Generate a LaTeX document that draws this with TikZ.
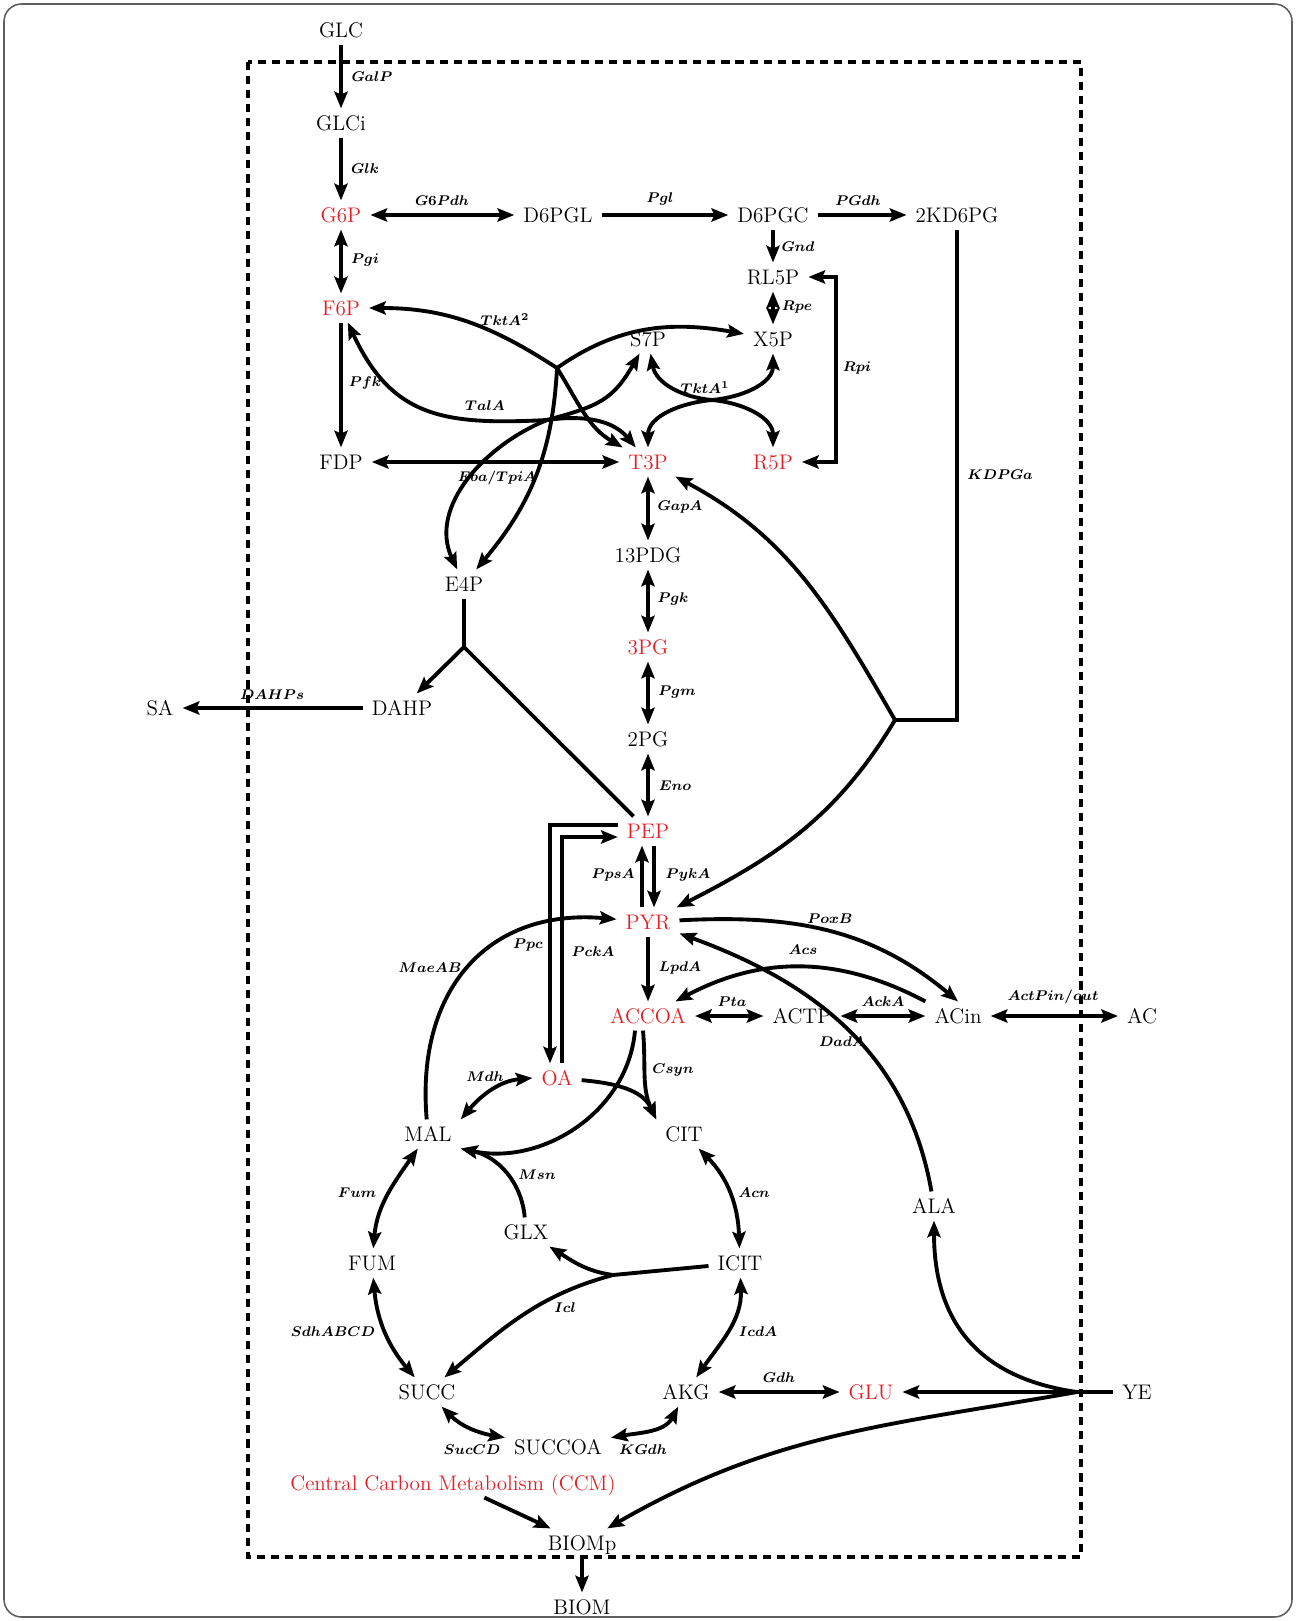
\documentclass[tikz,border=0pt]{standalone}
\usepackage{tikz}
\usepackage{xcolor}
\usetikzlibrary{calc,arrows.meta}
\definecolor{ccmRed}{RGB}{228,30,36}
\definecolor{frameGray}{RGB}{95,95,95}

\begin{document}
\begin{tikzpicture}[x=0.02cm,y=-0.02cm,
  >={Stealth[length=9.5pt,width=7.5pt,inset=1.6pt]},
  met/.style={inner xsep=5pt,inner ysep=4pt,text height=8.2pt,text depth=0pt,font=\fontsize{12}{14}\selectfont},
  key/.style={met,text=ccmRed},
  enz/.style={inner sep=1pt,font=\fontsize{8.5}{10}\selectfont\boldmath},
  bar/.style={line width=2.2pt},
  flux/.style={bar,->},
  rev/.style={bar,<->}]
\useasboundingbox (0,0) rectangle (1296,1621);
\draw[frameGray,line width=0.9pt,rounded corners=10pt] (4,4) rectangle (1292,1617);
\draw[line width=2pt,dash pattern=on 4.6pt off 3.4pt] (248,62) rectangle (1081,1557);

\node[met] (glc) at (341,30) {GLC};
\node[met] (glci) at (341,123) {GLCi};
\node[key] (g6p) at (341,215) {G6P};
\node[met] (d6pgl) at (558,215) {D6PGL};
\node[met] (d6pgc) at (773,215) {D6PGC};
\node[met] (kd6pg) at (957,215) {2KD6PG};
\node[met] (rl5p) at (773,277) {RL5P};
\node[key] (f6p) at (341,308) {F6P};
\node[met] (s7p) at (648,339) {S7P};
\node[met] (x5p) at (773,339) {X5P};
\node[met] (fdp) at (341,462) {FDP};
\node[key] (t3p) at (648,462) {T3P};
\node[key] (r5p) at (773,462) {R5P};
\node[met] (pdg) at (648,555) {13PDG};
\node[met] (e4p) at (464,584) {E4P};
\node[key] (pg3) at (648,647) {3PG};
\node[met] (sa) at (160,708) {SA};
\node[met] (dahp) at (402,708) {DAHP};
\node[met] (pg2) at (648,739) {2PG};
\node[key] (pep) at (648,831) {PEP};
\node[key] (pyr) at (648,922) {PYR};
\node[key] (accoa) at (648,1016) {ACCOA};
\node[met] (actp) at (802,1016) {ACTP};
\node[met] (acin) at (958,1016) {ACin};
\node[met] (ac) at (1142,1016) {AC};
\node[key] (oa) at (557,1078) {OA};
\node[met] (mal) at (428,1134) {MAL};
\node[met] (cit) at (684,1134) {CIT};
\node[met] (ala) at (934,1206) {ALA};
\node[met] (glx) at (526,1232) {GLX};
\node[met] (fum) at (372,1263) {FUM};
\node[met] (icit) at (740,1263) {ICIT};
\node[met] (succ) at (427,1392) {SUCC};
\node[met] (akg) at (686,1392) {AKG};
\node[key] (glu) at (871,1392) {GLU};
\node[met] (ye) at (1137,1392) {YE};
\node[met] (succoa) at (558,1447) {SUCCOA};
\node[key] (ccm) at (453,1483) {Central Carbon Metabolism (CCM)};
\node[met] (biomp) at (582,1543) {BIOMp};
\node[met] (biom) at (582,1607) {BIOM};

\coordinate (kdj) at (895,720);
\coordinate (tkt2) at (557,368);
\coordinate (tal) at (547,420);
\coordinate (tkt1) at (712,400);
\coordinate (e4j) at (464,647);
\coordinate (rpi) at (836,370);
\coordinate (iclj) at (613,1275);
\coordinate (yej) at (1077,1392);

\node[enz] (eGalP) at (372,77) {$GalP$};
\node[enz] (eGlk) at (365,169) {$Glk$};
\node[enz] (eG6Pdh) at (442,201) {$G6Pdh$};
\node[enz] (ePgl) at (660,199) {$Pgl$};
\node[enz] (ePGdh) at (858,201) {$PGdh$};
\node[enz] (eGnd) at (798,247) {$Gnd$};
\node[enz] (ePgi) at (365,260) {$Pgi$};
\node[enz] (eRpe) at (797,307) {$Rpe$};
\node[enz] (eTktB) at (505,320) {$TktA^2$};
\node[enz] (ePfk) at (365,383) {$Pfk$};
\node[enz] (eTalA) at (485,406) {$TalA$};
\node[enz] (eTktA) at (705,388) {$TktA^1$};
\node[enz] (eRpi) at (857,368) {$Rpi$};
\node[enz] (eFba) at (497,478) {$Fba/TpiA$};
\node[enz] (eKDPGa) at (1000,475) {$KDPGa$};
\node[enz] (eGapA) at (680,507) {$GapA$};
\node[enz] (ePgk) at (673,599) {$Pgk$};
\node[enz] (ePgm) at (677,692) {$Pgm$};
\node[enz] (eDAHPs) at (272,695) {$DAHPs$};
\node[enz] (eEno) at (675,786) {$Eno$};
\node[enz] (ePpsA) at (613,875) {$PpsA$};
\node[enz] (ePykA) at (688,875) {$PykA$};
\node[enz] (ePoxB) at (830,919) {$PoxB$};
\node[enz] (eMaeAB) at (430,968) {$MaeAB$};
\node[enz] (ePpc) at (528,945) {$Ppc$};
\node[enz] (ePckA) at (593,952) {$PckA$};
\node[enz] (eAcs) at (803,950) {$Acs$};
\node[enz] (eLpdA) at (680,968) {$LpdA$};
\node[enz] (ePta) at (732,1002) {$Pta$};
\node[enz] (eAckA) at (883,1002) {$AckA$};
\node[enz] (eActP) at (1053,997) {$ActPin/out$};
\node[enz] (eDadA) at (842,1042) {$DadA$};
\node[enz] (eMdh) at (485,1077) {$Mdh$};
\node[enz] (eCsyn) at (673,1070) {$Csyn$};
\node[enz] (eFum) at (357,1193) {$Fum$};
\node[enz] (eMsn) at (537,1175) {$Msn$};
\node[enz] (eAcn) at (754,1193) {$Acn$};
\node[enz] (eIcl) at (565,1308) {$Icl$};
\node[enz] (eSdh) at (333,1332) {$SdhABCD$};
\node[enz] (eIcdA) at (758,1332) {$IcdA$};
\node[enz] (eGdh) at (779,1378) {$Gdh$};
\node[enz] (eSucCD) at (472,1450) {$SucCD$};
\node[enz] (eKGdh) at (643,1450) {$KGdh$};

\draw[flux] (glc) -- (glci);
\draw[flux] (glci) -- (g6p);
\draw[rev] (g6p) -- (d6pgl);
\draw[flux] (d6pgl) -- (d6pgc);
\draw[flux] (d6pgc) -- (kd6pg);
\draw[flux] (d6pgc) -- (rl5p);
\draw[rev] (g6p) -- (f6p);
\draw[rev] (rl5p) -- (x5p);
\draw[rev] (rl5p) -| (rpi) |- (r5p);
\draw[bar] (kd6pg) |- (kdj);
\draw[flux] (kdj) to[out=120,in=-28] (t3p);
\draw[flux] (kdj) to[out=-121,in=27] (pyr);
\draw[flux] (f6p) -- (fdp);
\draw[rev] (fdp) -- (t3p);

\draw[flux] (tkt2) to[out=147,in=0] (f6p);
\draw[flux] (tkt2) to[out=35,in=170] (x5p);
\draw[flux] (tkt2) to[out=-58,in=150] (t3p);
\draw[flux] (tkt2) to[out=-93,in=50] (e4p);
\draw[flux] (tal) to[out=183,in=-65,looseness=1.2] (f6p);
\draw[flux] (tal) to[out=15,in=-120,looseness=1.2] (s7p);
\draw[flux] (tal) to[out=8,in=130] (t3p);
\draw[flux] (tal) to[out=202,in=115] (e4p);
\draw[flux] (tkt1) to[out=175,in=-80] (s7p);
\draw[flux] (tkt1) to[out=185,in=90] (t3p);
\draw[flux] (tkt1) to[out=5,in=-90] (x5p);
\draw[flux] (tkt1) to[out=-5,in=90] (r5p);

\draw[rev] (t3p) -- (pdg);
\draw[rev] (pdg) -- (pg3);
\draw[rev] (pg3) -- (pg2);
\draw[rev] (pg2) -- (pep);
\draw[bar] (e4p) -- (e4j);
\draw[flux] (e4j) -- (dahp);
\draw[bar] (e4j) -- (pep);
\draw[flux] (dahp) -- (sa);

\draw[flux] ($(pyr.north)+(-6,0)$) -- ($(pep.south)+(-6,0)$);
\draw[flux] ($(pep.south)+(6,0)$) -- ($(pyr.north)+(6,0)$);
\draw[flux] ($(pep.west)+(0,-6)$) -| ($(oa.north)+(-7,0)$);
\draw[flux] ($(oa.north)+(5,0)$) |- ($(pep.west)+(0,6)$);
\draw[flux] (mal) to[out=95,in=175,looseness=1.2] (pyr);
\draw[flux] (pyr) -- (accoa);
\draw[flux] (pyr) to[out=3,in=140] (acin.north);
\draw[flux] (acin.north west) to[out=152,in=28] (accoa);
\draw[flux] (ala) to[out=100,in=-20] (pyr);
\draw[rev] (accoa) -- (actp);
\draw[rev] (actp) -- (acin);
\draw[rev] (acin) -- (ac);

\draw[flux] ($(accoa.south)+(-5,0)$) to[out=-85,in=115] (cit.north west);
\draw[flux] (oa) to[out=-5,in=115] (cit.north west);
\draw[flux] ($(accoa.south)+(-13,0)$) to[out=-95,in=-12] (mal.south east);
\draw[flux] (glx) to[out=95,in=-12] (mal.south east);
\draw[rev] (mal.north east) to[out=50,in=185] (oa.west);
\draw[rev] (mal) to[out=-125,in=85] (fum);
\draw[rev] (fum) to[out=-85,in=130] (succ);
\draw[rev] (succ) to[out=-45,in=170] (succoa);
\draw[rev] (succoa) to[out=10,in=-118] (akg);
\draw[rev] (icit) to[out=-88,in=55] (akg);
\draw[rev] (cit) to[out=-45,in=92] (icit);
\draw[bar] (icit) -- (iclj);
\draw[flux] (iclj) to[out=172,in=-32] (glx);
\draw[flux] (iclj) to[out=195,in=40] (succ);

\draw[rev] (akg) -- (glu);
\draw[bar] (ye) -- (yej);
\draw[flux] (yej) -- (glu);
\draw[flux] (yej) to[out=172,in=-90,looseness=1.15] (ala);
\draw[flux] (yej) to[out=190,in=30] (biomp);
\draw[flux] (ccm) -- (biomp);
\draw[flux] (biomp) -- (biom);
\end{tikzpicture}
\end{document}
